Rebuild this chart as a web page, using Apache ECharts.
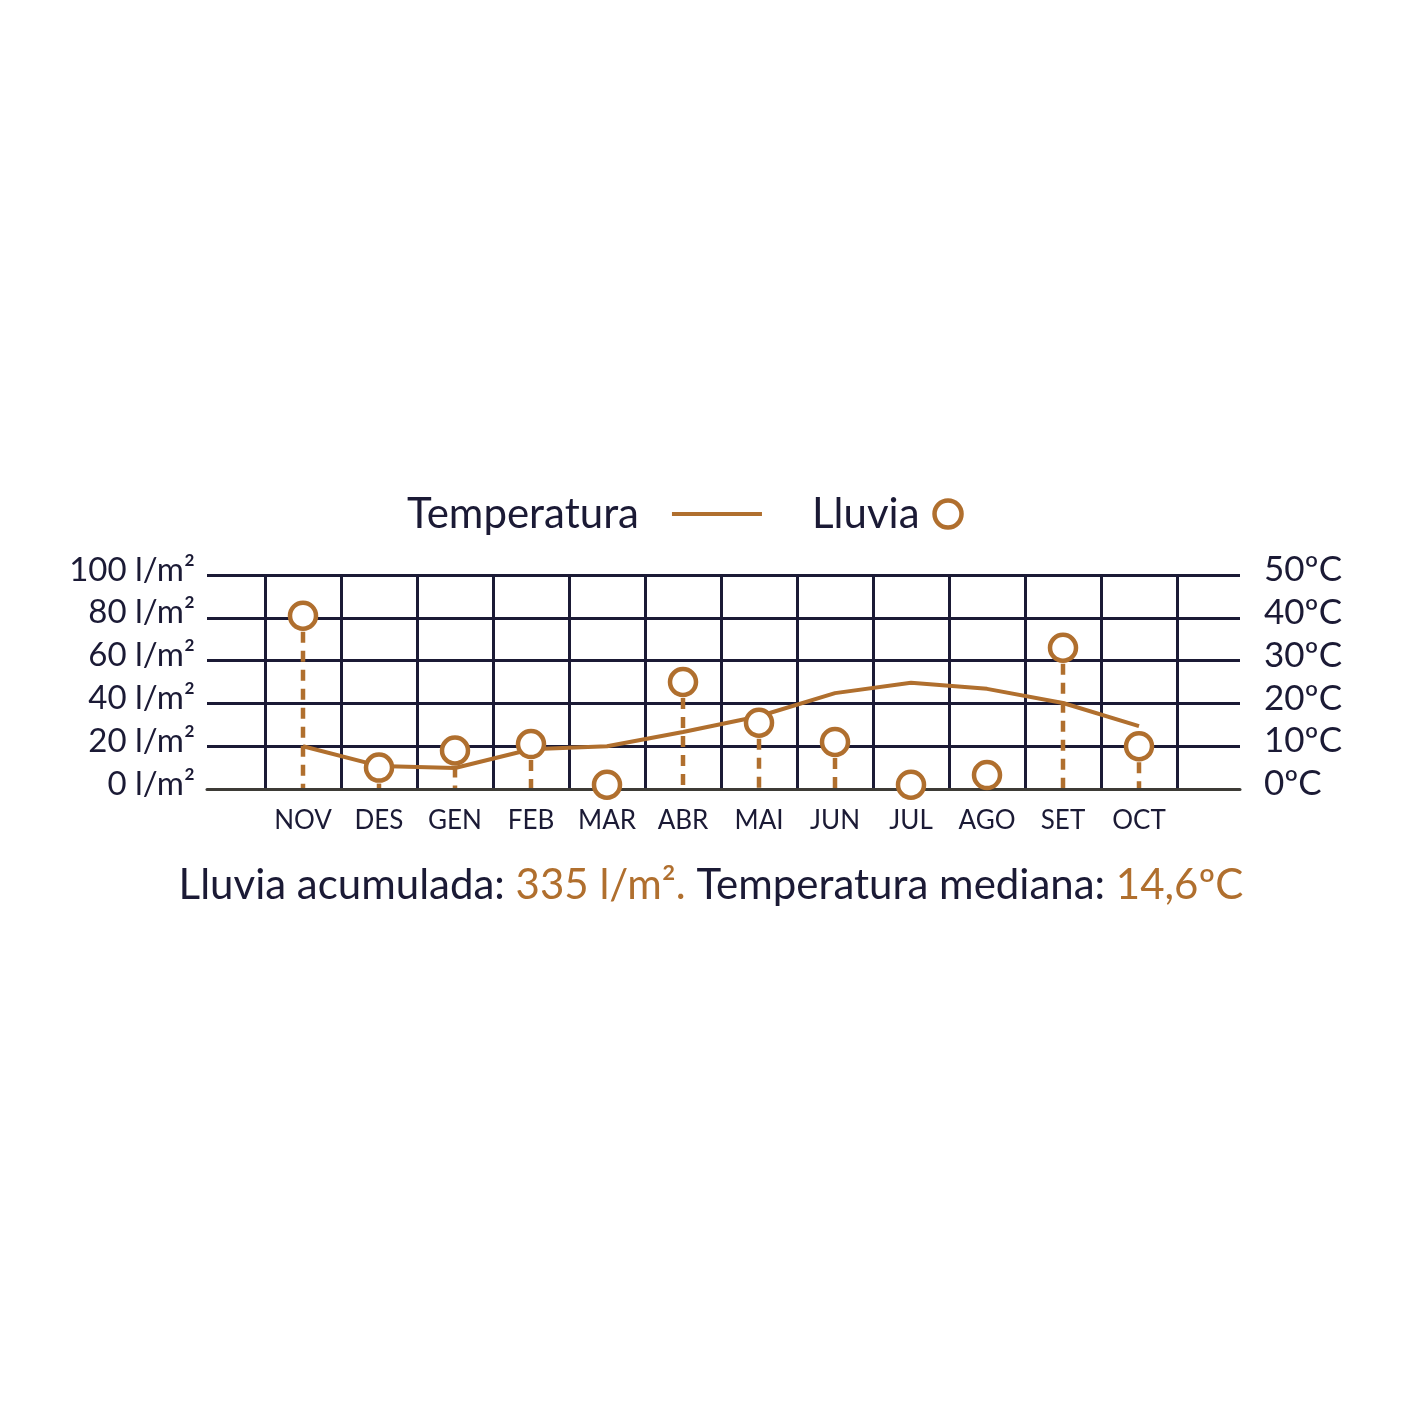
<!DOCTYPE html>
<html><head><meta charset="utf-8">
<script src="https://cdn.jsdelivr.net/npm/echarts@6/dist/echarts.min.js"></script>
<style>html,body{margin:0;padding:0;background:#fff}#c{width:1422px;height:1422px}</style>
</head><body><div id="c"></div>
<script>
const months = ['NOV','DES','GEN','FEB','MAR','ABR','MAI','JUN','JUL','AGO','SET','OCT'];
const rain = [81, 10, 18, 21, 2, 50, 31, 22, 2, 6.5, 66, 20];
const temp = [10, 5.4, 4.9, 9.3, 10, 13.3, 17, 22.4, 24.8, 23.4, 20.1, 14.7];
const rainTicks = [0, 20, 40, 60, 80, 100];
const tempTicks = [0, 10, 20, 30, 40, 50];
const totalRain = '335 l/m²';
const medianTemp = '14,6ºC';

const NAVY = '#1b1a35';
const ORANGE = '#b06f2e';
const FONT = 'Lato';

const chart = echarts.init(document.getElementById('c'), null, {renderer: 'canvas'});
chart.setOption({
  backgroundColor: '#fff',
  animation: false,
  textStyle: {fontFamily: FONT},
  legend: [
    {data: [{name: 'Temperatura', icon: 'rect'}], left: 402, top: 488, align: 'right',
     itemWidth: 90, itemHeight: 4, textStyle: {fontSize: 42, color: NAVY, fontFamily: FONT, padding: [0, 28, 0, 0]},
     selectedMode: false},
    {data: [{name: 'Lluvia', icon: 'circle', itemStyle: {color: '#fff', borderColor: ORANGE, borderWidth: 4.5}}],
     left: 807, top: 488, align: 'right', itemWidth: 27, itemHeight: 27,
     textStyle: {fontSize: 42, color: NAVY, fontFamily: FONT, padding: [0, 10, 0, 0]}, selectedMode: false}
  ],
  grid: [
    {left: 207, right: 182, top: 575, bottom: 633},
    {left: 265, right: 245, top: 575, bottom: 633}
  ],
  xAxis: [
    {gridIndex: 0, type: 'category', data: months, z: 5,
     axisLine: {show: true, lineStyle: {color: '#3d3b36', width: 3}},
     axisTick: {show: false}, axisLabel: {show: false}, splitLine: {show: false}},
    {gridIndex: 1, type: 'category', data: months, boundaryGap: true,
     axisLine: {show: false}, axisTick: {show: false},
     axisLabel: {color: NAVY, fontSize: 26, margin: 19, fontFamily: FONT},
     splitLine: {show: true, lineStyle: {color: NAVY, width: 3}}}
  ],
  yAxis: [
    {gridIndex: 0, type: 'value', min: 0, max: 100, interval: 20, position: 'left',
     axisLine: {show: false}, axisTick: {show: false},
     axisLabel: {margin: 12,
       formatter: v => '{t|' + v + ' l/m²}',
       rich: {t: {color: NAVY, fontSize: 33, fontFamily: FONT, padding: [0, 0, 10, 0]}}},
     splitLine: {show: true, lineStyle: {color: NAVY, width: 3}}},
    {gridIndex: 0, type: 'value', min: 0, max: 50, interval: 10, position: 'right',
     axisLine: {show: false}, axisTick: {show: false},
     axisLabel: {margin: 24, align: 'left',
       formatter: v => '{t|' + v + 'ºC}',
       rich: {t: {color: NAVY, fontSize: 35, fontFamily: FONT, padding: [0, 0, 10, 0]}}},
     splitLine: {show: false}},
    {gridIndex: 1, type: 'value', min: 0, max: 100, show: false},
    {gridIndex: 1, type: 'value', min: 0, max: 50, show: false}
  ],
  series: [
    {name: 'Lluvia-drop', type: 'custom', xAxisIndex: 1, yAxisIndex: 2, z: 3,
     data: rain.map((v, i) => [i, v]),
     renderItem: function (params, api) {
       const top = api.coord([api.value(0), api.value(1)]);
       const bot = api.coord([api.value(0), 0]);
       const y1 = top[1] + 16;
       if (y1 >= bot[1]) return null;
       return {type: 'line', shape: {x1: top[0], y1: y1, x2: bot[0], y2: bot[1]},
         style: {stroke: ORANGE, lineWidth: 4.5, lineDash: [11, 8]}};
     }},
    {name: 'Temperatura', type: 'line', xAxisIndex: 1, yAxisIndex: 3, data: temp, z: 4,
     symbol: 'none', smooth: false, color: ORANGE,
     lineStyle: {color: ORANGE, width: 4}},
    {name: 'Lluvia', type: 'scatter', xAxisIndex: 1, yAxisIndex: 2, data: rain, z: 6,
     symbol: 'circle', symbolSize: 26, color: ORANGE,
     itemStyle: {color: '#fff', borderColor: ORANGE, borderWidth: 4.5, opacity: 1}}
  ],
  graphic: [
    {type: 'text', left: 'center', top: 864,
     style: {
       text: '{a|Lluvia acumulada: }{b|' + totalRain + '.}{a| Temperatura mediana: }{b|' + medianTemp + '}',
       rich: {
         a: {fontSize: 42, fontFamily: FONT, fill: NAVY, color: NAVY},
         b: {fontSize: 42, fontFamily: FONT, fill: ORANGE, color: ORANGE}
       }
     }}
  ]
});
</script></body></html>
